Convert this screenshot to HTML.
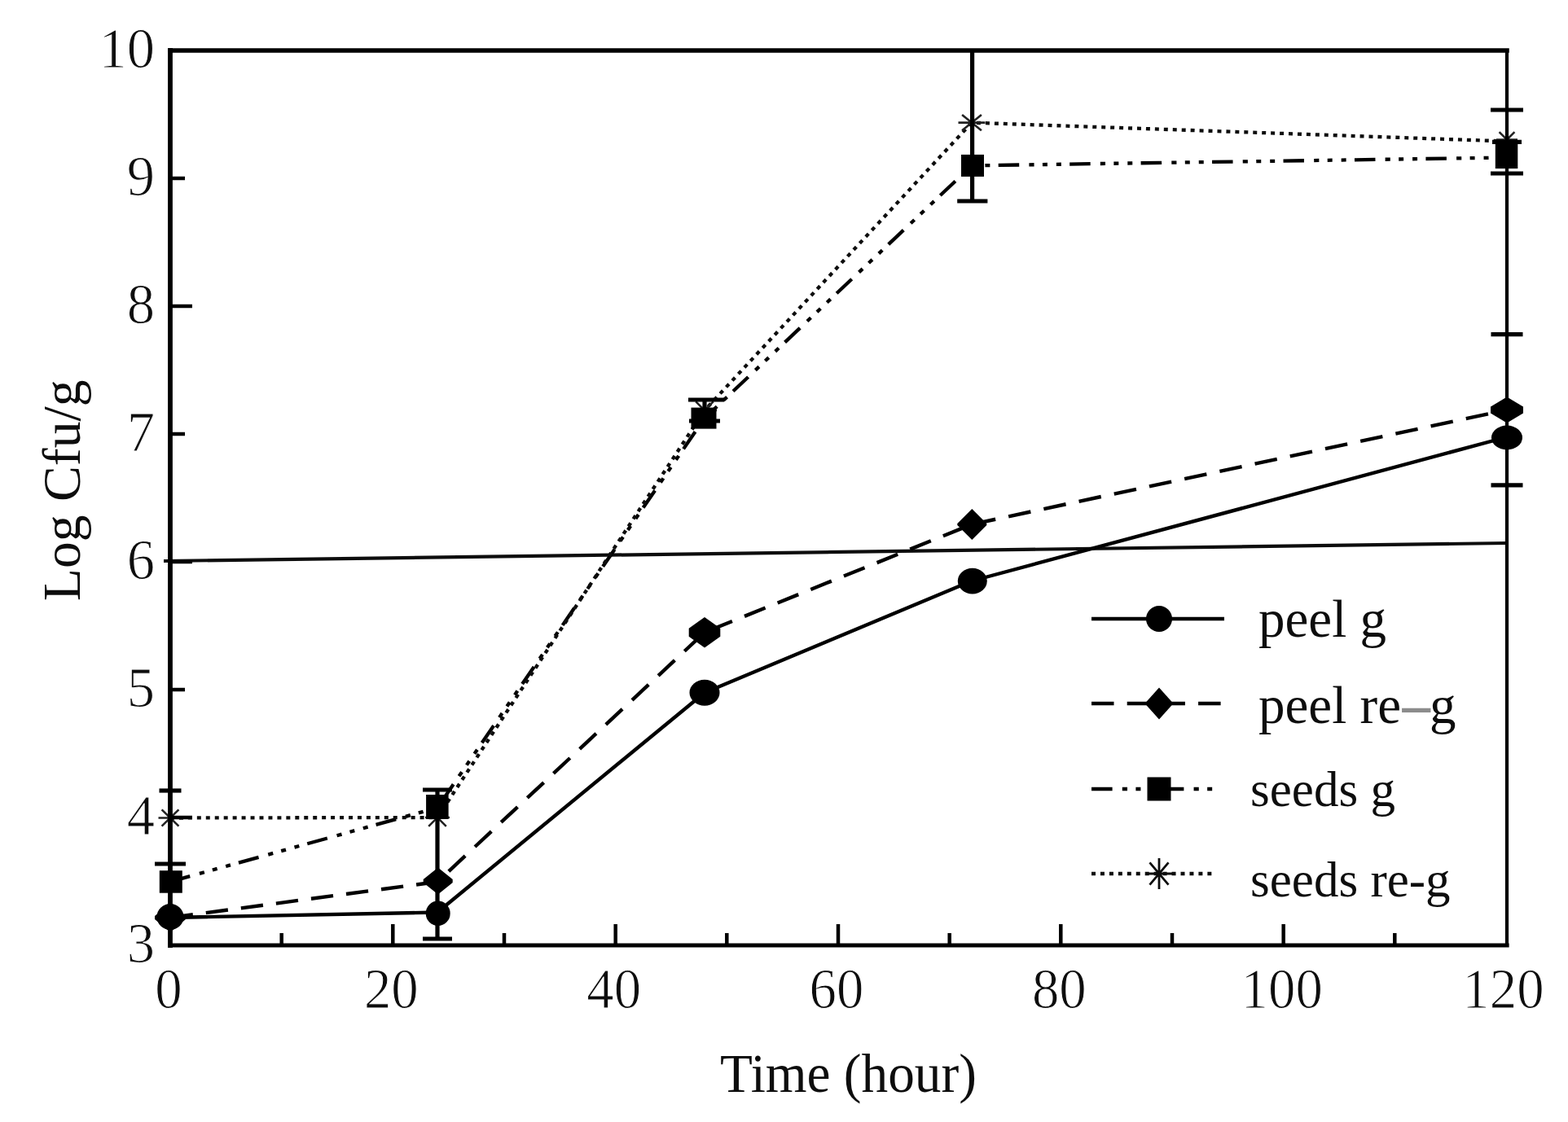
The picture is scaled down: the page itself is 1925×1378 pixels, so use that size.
<!DOCTYPE html>
<html><head><meta charset="utf-8"><title>Log Cfu/g vs Time</title>
<style>
html,body{margin:0;padding:0;background:#fff;}
body{width:1925px;height:1378px;overflow:hidden;}
svg{display:block;}
text{font-family:'Liberation Serif', 'Times New Roman', serif;fill:#111;}
.tk{stroke:#fff;stroke-width:1.0px;}
</style></head>
<body>
<svg width="1925" height="1378" viewBox="0 0 1925 1378">
<defs><filter id="soft" x="0" y="0" width="100%" height="100%"><feGaussianBlur stdDeviation="0.6"/></filter></defs>
<g filter="url(#soft)">
<rect x="0" y="0" width="1925" height="1378" fill="#fff"/>
<line x1="201" y1="689" x2="1850" y2="667" stroke="#111" stroke-width="4.2"/>
<polyline points="209.0,1127.0 537.0,1120.5 865.0,850.7 1193.0,713.5 1849.0,537.0" fill="none" stroke="#000" stroke-width="4.4" stroke-linejoin="round"/>
<line x1="209.0" y1="1127.0" x2="537.0" y2="1083.0" stroke="#000" stroke-width="4.4" stroke-dasharray="27.33 16.10" stroke-dashoffset="42.66"/>
<line x1="537.0" y1="1083.0" x2="865.0" y2="776.7" stroke="#000" stroke-width="4.4" stroke-dasharray="27.69 16.31" stroke-dashoffset="25.00"/>
<line x1="865.0" y1="776.7" x2="1193.0" y2="644.0" stroke="#000" stroke-width="4.4" stroke-dasharray="27.59 16.26" stroke-dashoffset="34.85"/>
<line x1="1193.0" y1="644.0" x2="1849.0" y2="503.6" stroke="#000" stroke-width="4.4" stroke-dasharray="27.80 16.38" stroke-dashoffset="42.18"/>
<polyline points="209.0,1082.9 537.0,992.0 865.0,513.6" fill="none" stroke="#000" stroke-width="4.3" stroke-dasharray="25.52 12.16 6.18 10.37 5.98 10.97 5.98 10.34" stroke-dashoffset="0.4"/>
<line x1="865.0" y1="513.6" x2="1193.0" y2="203.4" stroke="#000" stroke-width="4.3" stroke-dasharray="25.52 12.16 6.18 10.37 5.98 10.97 5.98 10.34" stroke-dashoffset="39.30"/>
<line x1="1193.0" y1="203.4" x2="1849.0" y2="193.5" stroke="#000" stroke-width="4.3" stroke-dasharray="25.51 12.16 6.18 10.36 5.98 10.96 5.98 10.33" stroke-dashoffset="54.75"/>
<polyline points="209.0,1004.5 537.0,1004.0 865.0,504.0" fill="none" stroke="#111" stroke-width="4.3" stroke-dasharray="5 5.95"/>
<line x1="865.0" y1="504.0" x2="1193.0" y2="150.6" stroke="#111" stroke-width="4.3" stroke-dasharray="5 5.95" stroke-dashoffset="4.75"/>
<line x1="1193.0" y1="150.6" x2="1849.0" y2="173.5" stroke="#111" stroke-width="4.3" stroke-dasharray="5 5.95" stroke-dashoffset="4.95"/>
<path d="M194.5,1004.5H223.5M209.0,990.5V1018.5M198.6,994.4L219.4,1014.6M198.6,1014.6L219.4,994.4" stroke="#222" stroke-width="2.6" fill="none"/>
<path d="M522.0,1004.0H552.0M537.0,989.0V1019.0M526.2,993.2L547.8,1014.8M526.2,1014.8L547.8,993.2" stroke="#222" stroke-width="2.6" fill="none"/>
<path d="M850.0,504.0H880.0M865.0,489.0V519.0M854.2,493.2L875.8,514.8M854.2,514.8L875.8,493.2" stroke="#222" stroke-width="2.6" fill="none"/>
<path d="M1176.5,150.6H1209.5M1193.0,137.1V164.1M1181.1,140.9L1204.9,160.3M1181.1,160.3L1204.9,140.9" stroke="#222" stroke-width="2.6" fill="none"/>
<path d="M1837.0,171.5H1863.0M1850.0,158.5V184.5M1840.6,162.1L1859.4,180.9M1840.6,180.9L1859.4,162.1" stroke="#222" stroke-width="2.6" fill="none"/>
<line x1="195.5" y1="971.0" x2="222.5" y2="971.0" stroke="#000" stroke-width="5.2"/>
<line x1="190.0" y1="1061.0" x2="228.0" y2="1061.0" stroke="#000" stroke-width="5.2"/>
<line x1="537.0" y1="970.0" x2="537.0" y2="1153.0" stroke="#000" stroke-width="5.2"/>
<line x1="519.0" y1="970.0" x2="555.0" y2="970.0" stroke="#000" stroke-width="5.2"/>
<line x1="519.0" y1="1153.0" x2="555.0" y2="1153.0" stroke="#000" stroke-width="5.2"/>
<line x1="865.0" y1="491.0" x2="865.0" y2="517.0" stroke="#000" stroke-width="5.2"/>
<line x1="845.0" y1="491.0" x2="889.0" y2="491.0" stroke="#000" stroke-width="5.2"/>
<line x1="846.0" y1="517.0" x2="884.0" y2="517.0" stroke="#000" stroke-width="5.2"/>
<line x1="1193.6" y1="62.0" x2="1193.6" y2="247.0" stroke="#000" stroke-width="5.2"/>
<line x1="1175.2" y1="247.0" x2="1212.4" y2="247.0" stroke="#000" stroke-width="5.2"/>
<line x1="1830.0" y1="135.0" x2="1870.0" y2="135.0" stroke="#000" stroke-width="5.2"/>
<line x1="1832.0" y1="174.3" x2="1868.0" y2="174.3" stroke="#000" stroke-width="5.2"/>
<line x1="1830.0" y1="213.0" x2="1870.0" y2="213.0" stroke="#000" stroke-width="5.2"/>
<line x1="1830.5" y1="410.7" x2="1869.5" y2="410.7" stroke="#000" stroke-width="5.2"/>
<line x1="1830.5" y1="595.8" x2="1869.5" y2="595.8" stroke="#000" stroke-width="5.2"/>
<line x1="209" y1="62" x2="209" y2="1161" stroke="#000" stroke-width="5.8" stroke-linecap="square"/>
<line x1="1850" y1="62" x2="1850" y2="1161" stroke="#000" stroke-width="4.2" stroke-linecap="square"/>
<line x1="209" y1="62" x2="1850" y2="62" stroke="#000" stroke-width="5.5" stroke-linecap="square"/>
<line x1="209" y1="1161" x2="1850" y2="1161" stroke="#000" stroke-width="5.2" stroke-linecap="square"/>
<line x1="345.7" y1="1161" x2="345.7" y2="1146" stroke="#000" stroke-width="4.5"/>
<line x1="482.3" y1="1161" x2="482.3" y2="1135" stroke="#000" stroke-width="4.5"/>
<line x1="619.0" y1="1161" x2="619.0" y2="1146" stroke="#000" stroke-width="4.5"/>
<line x1="755.7" y1="1161" x2="755.7" y2="1135" stroke="#000" stroke-width="4.5"/>
<line x1="892.3" y1="1161" x2="892.3" y2="1146" stroke="#000" stroke-width="4.5"/>
<line x1="1029.0" y1="1161" x2="1029.0" y2="1135" stroke="#000" stroke-width="4.5"/>
<line x1="1165.7" y1="1161" x2="1165.7" y2="1146" stroke="#000" stroke-width="4.5"/>
<line x1="1302.3" y1="1161" x2="1302.3" y2="1135" stroke="#000" stroke-width="4.5"/>
<line x1="1439.0" y1="1161" x2="1439.0" y2="1146" stroke="#000" stroke-width="4.5"/>
<line x1="1575.7" y1="1161" x2="1575.7" y2="1135" stroke="#000" stroke-width="4.5"/>
<line x1="1712.3" y1="1161" x2="1712.3" y2="1146" stroke="#000" stroke-width="4.5"/>
<line x1="209" y1="1004.0" x2="236" y2="1004.0" stroke="#000" stroke-width="4.5"/>
<line x1="209" y1="847.0" x2="227" y2="847.0" stroke="#000" stroke-width="4.5"/>
<line x1="209" y1="690.0" x2="236" y2="690.0" stroke="#000" stroke-width="4.5"/>
<line x1="209" y1="533.0" x2="227" y2="533.0" stroke="#000" stroke-width="4.5"/>
<line x1="209" y1="376.0" x2="236" y2="376.0" stroke="#000" stroke-width="4.5"/>
<line x1="209" y1="219.0" x2="227" y2="219.0" stroke="#000" stroke-width="4.5"/>
<rect x="195.8" y="1069.2" width="28" height="27.5" fill="#000"/>
<rect x="523.1" y="976.0" width="27.5" height="30" fill="#000"/>
<rect x="848.5" y="500.6" width="31" height="26" fill="#000"/>
<rect x="1180.0" y="189.9" width="28" height="27" fill="#000"/>
<rect x="1835.8" y="177.0" width="27.5" height="30" fill="#000"/>
<polygon points="209.0,1109.0 228.0,1125.0 228.0,1129.0 209.0,1145.0 190.0,1129.0 190.0,1125.0" fill="#000"/>
<polygon points="537.7,1065.5 555.7,1080.0 555.7,1084.0 537.7,1098.5 519.7,1084.0 519.7,1080.0" fill="#000"/>
<polygon points="865.0,757.9 884.3,771.7 884.3,781.7 865.0,795.5 845.7,781.7 845.7,771.7" fill="#000"/>
<polygon points="1193.3,625.0 1211.3,643.0 1211.3,645.0 1193.3,663.0 1175.3,645.0 1175.3,643.0" fill="#000"/>
<polygon points="1850.0,487.4 1870.0,499.4 1870.0,507.4 1850.0,519.4 1830.0,507.4 1830.0,499.4" fill="#000"/>
<ellipse cx="209.0" cy="1126.0" rx="16.5" ry="16.0" fill="#000"/>
<ellipse cx="537.7" cy="1121.7" rx="15.0" ry="15.3" fill="#000"/>
<ellipse cx="865.0" cy="850.7" rx="18.5" ry="16.0" fill="#000"/>
<ellipse cx="1193.8" cy="713.6" rx="18.0" ry="15.8" fill="#000"/>
<ellipse cx="1850.0" cy="537.5" rx="19.0" ry="15.0" fill="#000"/>
<text class="tk" transform="translate(190,1182.0) scale(0.98,1)" font-size="70" text-anchor="end">3</text>
<text class="tk" transform="translate(190,1025.0) scale(0.98,1)" font-size="70" text-anchor="end">4</text>
<text class="tk" transform="translate(190,868.0) scale(0.98,1)" font-size="70" text-anchor="end">5</text>
<text class="tk" transform="translate(190,711.0) scale(0.98,1)" font-size="70" text-anchor="end">6</text>
<text class="tk" transform="translate(190,554.0) scale(0.98,1)" font-size="70" text-anchor="end">7</text>
<text class="tk" transform="translate(190,397.0) scale(0.98,1)" font-size="70" text-anchor="end">8</text>
<text class="tk" transform="translate(190,240.0) scale(0.98,1)" font-size="70" text-anchor="end">9</text>
<text class="tk" transform="translate(190,83.0) scale(0.98,1)" font-size="70" text-anchor="end">10</text>
<text class="tk" transform="translate(207.0,1237.5) scale(0.955,1)" font-size="70" text-anchor="middle">0</text>
<text class="tk" transform="translate(480.3,1237.5) scale(0.955,1)" font-size="70" text-anchor="middle">20</text>
<text class="tk" transform="translate(753.7,1237.5) scale(0.955,1)" font-size="70" text-anchor="middle">40</text>
<text class="tk" transform="translate(1027.0,1237.5) scale(0.955,1)" font-size="70" text-anchor="middle">60</text>
<text class="tk" transform="translate(1300.3,1237.5) scale(0.955,1)" font-size="70" text-anchor="middle">80</text>
<text class="tk" transform="translate(1573.7,1237.5) scale(0.955,1)" font-size="70" text-anchor="middle">100</text>
<text class="tk" transform="translate(1845.5,1237.5) scale(0.955,1)" font-size="70" text-anchor="middle">120</text>
<text transform="translate(1041.5,1341) scale(0.96,1)" font-size="68" text-anchor="middle">Time (hour)</text>
<text transform="translate(97.5,602.3) rotate(-90) scale(1.01,1)" font-size="65" text-anchor="middle">Log Cfu/g</text>
<line x1="1340" y1="760" x2="1503" y2="760" stroke="#000" stroke-width="4.4"/>
<circle cx="1423.0" cy="760.0" r="16" fill="#000"/>
<line x1="1340" y1="864" x2="1503" y2="864" stroke="#000" stroke-width="4.4" stroke-dasharray="27.5 16.2"/>
<polygon points="1423.0,844.5 1440.5,864.0 1423.0,883.5 1405.5,864.0" fill="#000"/>
<line x1="1340" y1="969" x2="1491" y2="969" stroke="#000" stroke-width="4.4" stroke-dasharray="25.6 12.2 6.2 10.4 6 11 6 10.37"/>
<rect x="1408.5" y="954.5" width="29" height="29" fill="#000"/>
<line x1="1340" y1="1073" x2="1490" y2="1073" stroke="#111" stroke-width="4.4" stroke-dasharray="5 5.95"/>
<path d="M1407.0,1073.0H1439.0M1423.0,1054.0V1092.0M1411.5,1059.3L1434.5,1086.7M1411.5,1086.7L1434.5,1059.3" stroke="#111" stroke-width="2.8" fill="none"/>
<text x="1545" y="782" font-size="65">peel g</text>
<text x="1545" y="887.5" font-size="65">peel re<tspan dx="2.5" fill="#8c8c8c" stroke="#8c8c8c" stroke-width="2">–</tspan>g</text>
<text x="1535" y="990" font-size="61">seeds g</text>
<text x="1535" y="1101" font-size="61">seeds re-g</text>
</g>
</svg>
</body></html>
